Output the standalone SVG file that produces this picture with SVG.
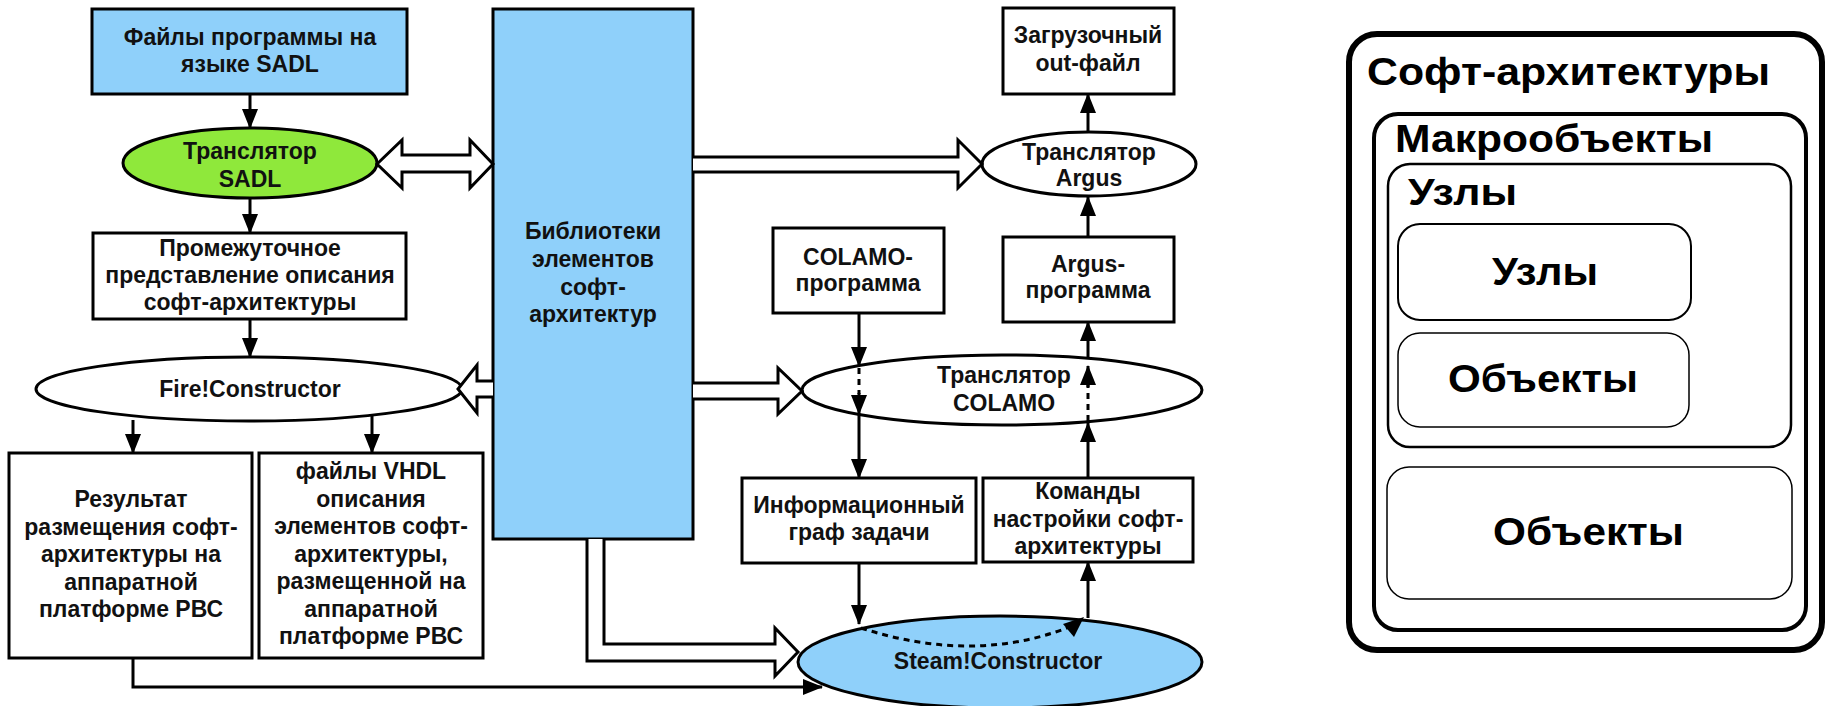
<svg xmlns="http://www.w3.org/2000/svg" width="1828" height="706" viewBox="0 0 1828 706">
<defs>
<marker id="ah" markerUnits="userSpaceOnUse" markerWidth="20" markerHeight="16" refX="19" refY="8" orient="auto">
<path d="M0,0 L20,8 L0,16 z" fill="#000"/>
</marker>
<style>
.t{font-family:"Liberation Sans",Arial,sans-serif;font-weight:bold;font-size:23px;fill:#111;text-anchor:middle}
.box{fill:#fff;stroke:#000;stroke-width:3}
.blue{fill:#8fd0fa;stroke:#000;stroke-width:3}
.ln{fill:none;stroke:#000;stroke-width:3}
.dot{fill:none;stroke:#000;stroke-width:3;stroke-dasharray:6 5}
.hol{fill:#fff;stroke:#000;stroke-width:3;stroke-linejoin:miter}
.r{font-family:"Liberation Sans",Arial,sans-serif;font-weight:bold;fill:#000}
.rr{fill:none;stroke:#000}
</style>
</defs>

<g id="n-sadl-files">
<rect class="blue" x="92" y="9" width="315" height="85"/>
<text class="t" x="250" y="45">Файлы программы на</text>
<text class="t" x="250" y="72">языке SADL</text>
</g>

<g id="n-sadl-translator">
<ellipse cx="250" cy="163" rx="127" ry="35" fill="#8fe83b" stroke="#000" stroke-width="3"/>
<text class="t" x="250" y="159">Транслятор</text>
<text class="t" x="250" y="187">SADL</text>
</g>

<g id="n-intermediate">
<rect class="box" x="93" y="233" width="313" height="86"/>
<text class="t" x="250" y="256">Промежуточное</text>
<text class="t" x="250" y="283">представление описания</text>
<text class="t" x="250" y="310">софт-архитектуры</text>
</g>

<g id="n-fire">
<ellipse cx="249" cy="389" rx="213" ry="32" fill="#fff" stroke="#000" stroke-width="3"/>
<text class="t" x="250" y="397">Fire!Constructor</text>
</g>

<g id="n-result">
<rect class="box" x="9" y="453" width="243" height="205"/>
<text class="t" x="131" y="507">Результат</text>
<text class="t" x="131" y="535">размещения софт-</text>
<text class="t" x="131" y="562">архитектуры на</text>
<text class="t" x="131" y="590">аппаратной</text>
<text class="t" x="131" y="617">платформе РВС</text>
</g>

<g id="n-vhdl">
<rect class="box" x="259" y="453" width="224" height="205"/>
<text class="t" x="371" y="479">файлы VHDL</text>
<text class="t" x="371" y="507">описания</text>
<text class="t" x="371" y="534">элементов софт-</text>
<text class="t" x="371" y="562">архитектуры,</text>
<text class="t" x="371" y="589">размещенной на</text>
<text class="t" x="371" y="617">аппаратной</text>
<text class="t" x="371" y="644">платформе РВС</text>
</g>

<g id="n-library">
<rect class="blue" x="493" y="9" width="200" height="530"/>
<text class="t" x="593" y="239">Библиотеки</text>
<text class="t" x="593" y="267">элементов</text>
<text class="t" x="593" y="295">софт-</text>
<text class="t" x="593" y="322">архитектур</text>
</g>

<g id="n-colamo-prog">
<rect class="box" x="773" y="228" width="171" height="85"/>
<text class="t" x="858" y="265">COLAMO-</text>
<text class="t" x="858" y="291">программа</text>
</g>

<g id="n-colamo-tr">
<ellipse cx="1002" cy="390" rx="200" ry="35" fill="#fff" stroke="#000" stroke-width="3"/>
<text class="t" x="1004" y="383">Транслятор</text>
<text class="t" x="1004" y="411">COLAMO</text>
</g>

<g id="n-info">
<rect class="box" x="742" y="478" width="234" height="85"/>
<text class="t" x="859" y="513">Информационный</text>
<text class="t" x="859" y="540">граф задачи</text>
</g>

<g id="n-commands">
<rect class="box" x="983" y="478" width="210" height="84"/>
<text class="t" x="1088" y="499">Команды</text>
<text class="t" x="1088" y="527">настройки софт-</text>
<text class="t" x="1088" y="554">архитектуры</text>
</g>

<g id="n-out">
<rect class="box" x="1003" y="8" width="171" height="86"/>
<text class="t" x="1088" y="43">Загрузочный</text>
<text class="t" x="1088" y="71">out-файл</text>
</g>

<g id="n-argus-tr">
<ellipse cx="1089" cy="164" rx="107" ry="32" fill="#fff" stroke="#000" stroke-width="3"/>
<text class="t" x="1089" y="160">Транслятор</text>
<text class="t" x="1089" y="186">Argus</text>
</g>

<g id="n-argus-prog">
<rect class="box" x="1003" y="237" width="171" height="85"/>
<text class="t" x="1088" y="272">Argus-</text>
<text class="t" x="1088" y="298">программа</text>
</g>

<g id="n-steam">
<ellipse cx="1000" cy="662" rx="202" ry="46" fill="#8fd0fa" stroke="#000" stroke-width="3"/>
<text class="t" x="998" y="669">Steam!Constructor</text>
</g>

<g id="connectors">
<line class="ln" x1="250" y1="94" x2="250" y2="128" marker-end="url(#ah)"/>
<line class="ln" x1="250" y1="198" x2="250" y2="233" marker-end="url(#ah)"/>
<line class="ln" x1="250" y1="319" x2="250" y2="357" marker-end="url(#ah)"/>
<line class="ln" x1="133" y1="420" x2="133" y2="453" marker-end="url(#ah)"/>
<line class="ln" x1="372" y1="416" x2="372" y2="453" marker-end="url(#ah)"/>
<polyline class="ln" points="133,658 133,687 822,687" marker-end="url(#ah)"/>
<polygon class="hol" points="377,164 402,140 402,155 470,155 470,140 493,164 470,188 470,172 402,172 402,188"/>
<path class="hol" d="M693,157 L958,157 L958,140 L982,164 L958,188 L958,172 L693,172"/>
<path class="hol" d="M493,381 L477,381 L477,365 L458,389 L477,413 L477,397 L493,397"/>
<path class="hol" d="M693,383 L778,383 L778,368 L802,391 L778,414 L778,399 L693,399"/>
<path class="hol" d="M587,539 L587,661 L775,661 L775,676 L798,652 L775,628 L775,644 L604,644 L604,539"/>
<line class="ln" x1="859" y1="313" x2="859" y2="366" marker-end="url(#ah)"/>
<line class="dot" x1="859" y1="368" x2="859" y2="394"/>
<line class="ln" x1="859" y1="393" x2="859" y2="414" marker-end="url(#ah)"/>
<line class="ln" x1="859" y1="414" x2="859" y2="478" marker-end="url(#ah)"/>
<line class="ln" x1="859" y1="563" x2="859" y2="624" marker-end="url(#ah)"/>
<path class="dot" d="M861,628 Q975,665 1072,626"/>
<path d="M1084,617 L1074,637 L1063,624 z" fill="#000"/>
<line class="ln" x1="1088" y1="618" x2="1088" y2="562" marker-end="url(#ah)"/>
<line class="ln" x1="1088" y1="478" x2="1088" y2="423" marker-end="url(#ah)"/>
<line class="dot" x1="1088" y1="421" x2="1088" y2="385"/>
<line class="ln" x1="1088" y1="387" x2="1088" y2="366" marker-end="url(#ah)"/>
<line class="ln" x1="1088" y1="358" x2="1088" y2="322" marker-end="url(#ah)"/>
<line class="ln" x1="1088" y1="237" x2="1088" y2="197" marker-end="url(#ah)"/>
<line class="ln" x1="1088" y1="132" x2="1088" y2="94" marker-end="url(#ah)"/>
</g>

<g id="n-soft-arch">
<rect class="rr" x="1349" y="34" width="473" height="616" rx="28" stroke-width="6"/>
<text class="r" x="1367" y="85" font-size="39" textLength="403" lengthAdjust="spacingAndGlyphs">Софт-архитектуры</text>
</g>
<g id="n-macro">
<rect class="rr" x="1374" y="114" width="432" height="516" rx="24" stroke-width="4"/>
<text class="r" x="1395" y="152" font-size="39" textLength="318" lengthAdjust="spacingAndGlyphs">Макрообъекты</text>
</g>
<g id="n-nodes-group">
<rect class="rr" x="1388" y="164" width="403" height="283" rx="22" stroke-width="2.5"/>
<text class="r" x="1408" y="205" font-size="37" textLength="109" lengthAdjust="spacingAndGlyphs">Узлы</text>
</g>
<g id="n-nodes-inner">
<rect class="rr" x="1398" y="224" width="293" height="96" rx="22" stroke-width="2"/>
<text class="r" x="1492" y="285" font-size="39" textLength="106" lengthAdjust="spacingAndGlyphs">Узлы</text>
</g>
<g id="n-objects-inner">
<rect class="rr" x="1398" y="333" width="291" height="94" rx="22" stroke-width="1.5"/>
<text class="r" x="1448" y="392" font-size="39" textLength="190" lengthAdjust="spacingAndGlyphs">Объекты</text>
</g>
<g id="n-objects">
<rect class="rr" x="1387" y="467" width="405" height="132" rx="22" stroke-width="1.5"/>
<text class="r" x="1493" y="545" font-size="39" textLength="191" lengthAdjust="spacingAndGlyphs">Объекты</text>
</g>
</svg>
